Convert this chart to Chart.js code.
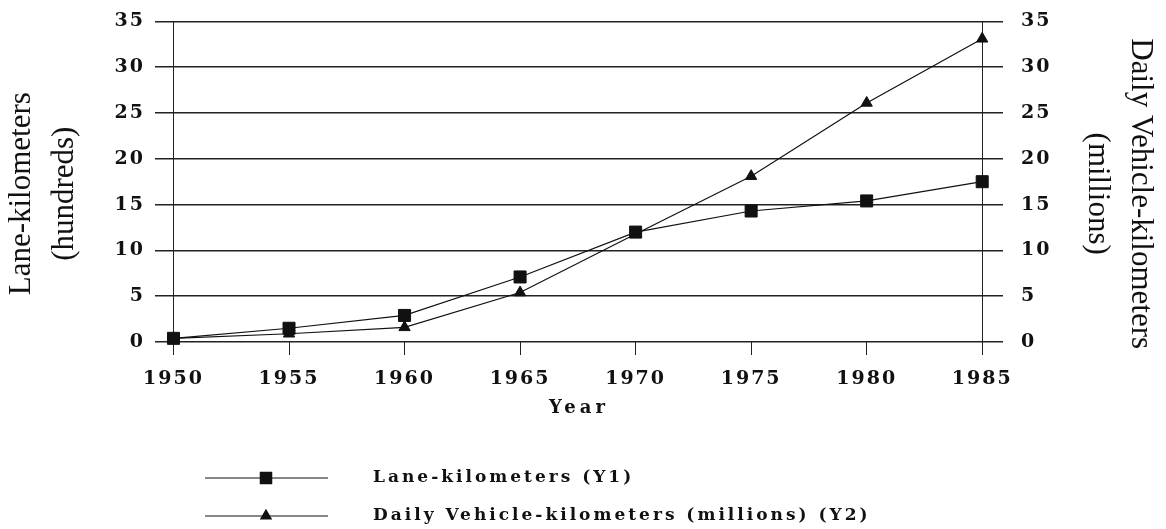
<!DOCTYPE html>
<html>
<head>
<meta charset="utf-8">
<script src="https://cdn.jsdelivr.net/npm/chart.js@4.4.1/dist/chart.umd.min.js"></script>
<style>
html, body { margin: 0; padding: 0; background: #fff; }
</style>
</head>
<body>
<canvas id="myChart" width="1166" height="529"></canvas>
<script>
// values
const years = [1950, 1955, 1960, 1965, 1970, 1975, 1980, 1985];
const laneKm = [0.4, 1.5, 2.9, 7.1, 12.0, 14.3, 15.4, 17.5];
const vehicleKm = [0.4, 0.9, 1.6, 5.4, 11.8, 18.1, 26.1, 33.1];
const yTicks = [0, 5, 10, 15, 20, 25, 30, 35];
const legendLabels = ["Lane-kilometers (Y1)", "Daily Vehicle-kilometers (millions) (Y2)"];

const ink = "#111";
const tickFont = {family: "DejaVu Serif", size: 19, weight: "bold"};
const titleFont = {family: "Liberation Serif", size: 31, lineHeight: 1.4};

// bold labels in the scan are letter-spaced; the side titles are not
const titleSpacing = {x: "4px", y: "0px", y2: "0px"};
const titleShift = {x: 0, y: 12, y2: 12};

const spacing = {
	id: "spacing",
	beforeDraw(chart) {
		chart.ctx.letterSpacing = "2px";
		for (const id of ["x", "y", "y2"]) {
			const scale = chart.scales[id];
			if (scale._patched) {
				continue;
			}
			const orig = scale.drawTitle.bind(scale);
			scale.drawTitle = function () {
				const c = this.ctx;
				c.save();
				c.letterSpacing = titleSpacing[id];
				c.translate(0, titleShift[id]);
				orig();
				c.restore();
			};
			scale._patched = true;
		}
	},
};

// legend below the chart: short line with marker, then the label
const lineLegend = {
	id: "lineLegend",
	afterDraw(chart) {
		const ctx = chart.ctx;
		const rows = [478, 516];
		ctx.save();
		ctx.letterSpacing = "3px";
		chart.data.datasets.forEach((ds, i) => {
			const y = rows[i];
			ctx.strokeStyle = ink;
			ctx.fillStyle = ink;
			ctx.lineWidth = 1.2;
			ctx.beginPath();
			ctx.moveTo(205, y);
			ctx.lineTo(328, y);
			ctx.stroke();
			Chart.helpers.drawPoint(ctx, {
				pointStyle: ds.pointStyle,
				radius: ds.pointStyle === "rect" ? 8 : 6,
				rotation: 0,
				borderWidth: 1,
			}, 266, y);
			ctx.fill();
			ctx.font = "bold 17px 'DejaVu Serif'";
			ctx.textBaseline = "middle";
			ctx.textAlign = "left";
			ctx.fillText(legendLabels[i], 373, y);
		});
		ctx.restore();
	},
};

const context = document.querySelector("#myChart");
const lane_chart = new Chart(context, { // eslint-disable-line no-unused-vars
	type: "line",
	data: {
		datasets: [
			{
				label: legendLabels[0],
				data: years.map((x, i) => ({x, y: laneKm[i]})),
				borderColor: ink,
				backgroundColor: ink,
				borderWidth: 1.2,
				pointStyle: "rect",
				pointRadius: 8.5,
				pointBorderWidth: 1,
				yAxisID: "y",
				clip: false,
			},
			{
				label: legendLabels[1],
				data: years.map((x, i) => ({x, y: vehicleKm[i]})),
				borderColor: ink,
				backgroundColor: ink,
				borderWidth: 1.2,
				pointStyle: "triangle",
				pointRadius: 6.5,
				pointBorderWidth: 1,
				yAxisID: "y2",
				clip: false,
			},
		],
	},
	options: {
		responsive: false,
		animation: false,
		layout: {padding: {top: 19, bottom: 97, left: 0, right: 0}},
		scales: {
			x: {
				type: "linear",
				min: 1949.2,
				max: 1985.9,
				afterBuildTicks(scale) {
					scale.ticks = years.map(value => ({value}));
				},
				afterFit(scale) {
					scale.height = 90;
				},
				border: {display: false},
				grid: {
					color: c => (c.tick && (c.tick.value === 1950 || c.tick.value === 1985)) ? "#222" : "rgba(0,0,0,0)",
					tickColor: "#222",
					tickLength: 13,
					lineWidth: 1,
				},
				ticks: {
					color: ink,
					font: tickFont,
					padding: 13,
					maxRotation: 0,
					callback: v => String(v),
				},
				title: {
					display: true,
					text: "Year",
					color: ink,
					font: {family: "DejaVu Serif", size: 18, weight: "bold"},
					padding: {top: 0, bottom: 13},
				},
			},
			y: {
				type: "linear",
				position: "left",
				min: 0,
				max: 35,
				afterBuildTicks(scale) {
					scale.ticks = yTicks.map(value => ({value}));
				},
				afterFit(scale) {
					scale.width = 155;
				},
				border: {display: false},
				grid: {color: "#222", lineWidth: 1.5, drawTicks: false},
				ticks: {color: ink, font: tickFont, padding: 10},
				title: {
					display: true,
					text: ["Lane-kilometers", "(hundreds)"],
					color: ink,
					font: titleFont,
					padding: {top: 0, bottom: 0},
				},
			},
			y2: {
				type: "linear",
				position: "right",
				min: 0,
				max: 35,
				afterBuildTicks(scale) {
					scale.ticks = yTicks.map(value => ({value}));
				},
				afterFit(scale) {
					scale.width = 163;
				},
				border: {display: false},
				grid: {display: false},
				ticks: {color: ink, font: tickFont, padding: 10},
				title: {
					display: true,
					text: ["Daily Vehicle-kilometers", "(millions)"],
					color: ink,
					font: titleFont,
					padding: {top: 4, bottom: 0},
				},
			},
		},
		plugins: {
			legend: {display: false},
			tooltip: {enabled: false},
		},
	},
	plugins: [spacing, lineLegend],
});
</script>
</body>
</html>
